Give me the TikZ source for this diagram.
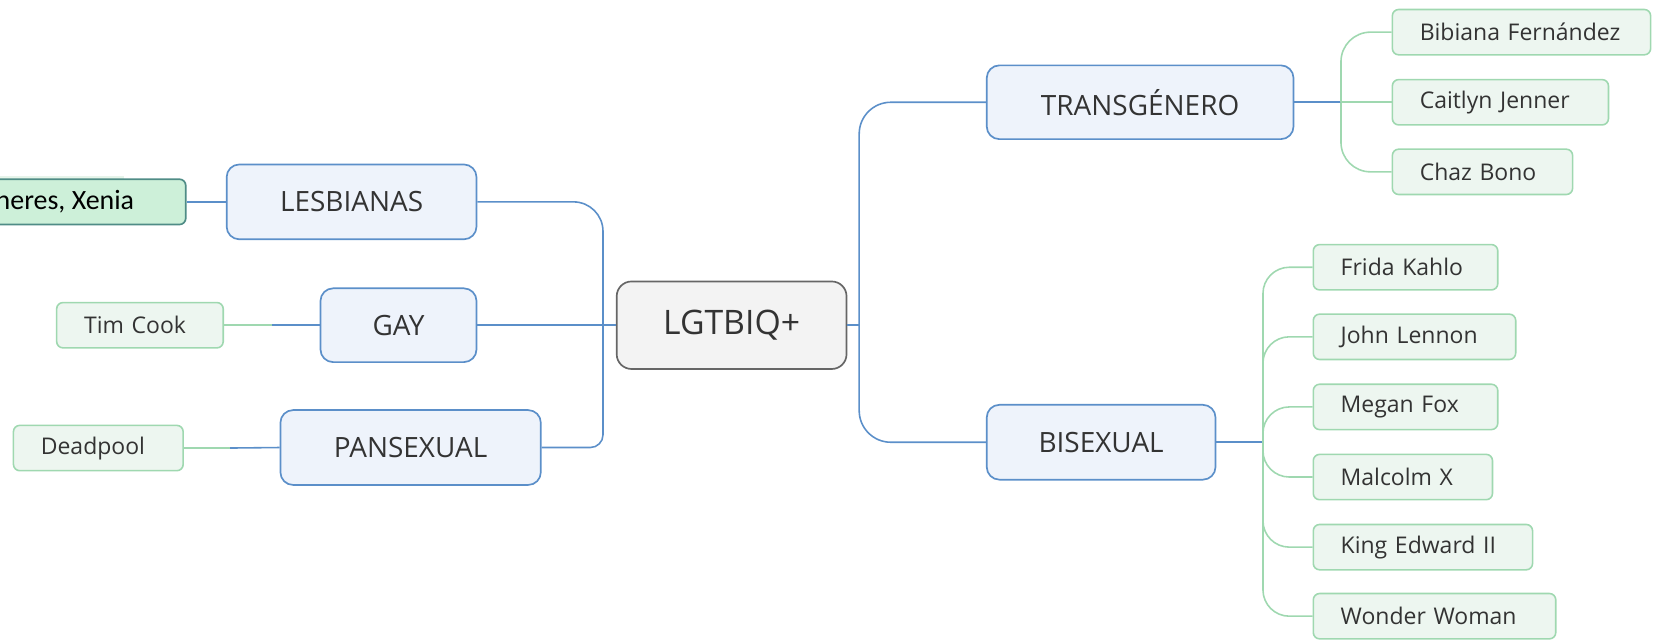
\documentclass[tikz,border=0pt]{standalone}
\usepackage{fontspec}
\setmainfont{Open Sans}
\newfontfamily\calib{Carlito}
\definecolor{mainfill}{HTML}{EEF3FB}
\definecolor{mainline}{HTML}{5B8FC9}
\definecolor{cfill}{HTML}{F3F3F3}
\definecolor{cline}{HTML}{666666}
\definecolor{lfill}{HTML}{EDF6F0}
\definecolor{lline}{HTML}{9FD8B0}
\definecolor{xfill}{HTML}{CDF0D9}
\definecolor{xline}{HTML}{4F8C86}
\definecolor{ghost}{HTML}{E6F4EA}
\definecolor{txt}{HTML}{333333}
\begin{document}
\begin{tikzpicture}[x=1pt,y=-1pt,
  mainbox/.style={draw=mainline, fill=mainfill, line width=1.6pt, rounded corners=12pt,
    text=txt, font=\fontsize{26.5}{30}\selectfont, inner sep=0pt},
  centerbox/.style={draw=cline, fill=cfill, line width=1.6pt, rounded corners=14pt,
    text=txt, font=\fontsize{32}{36}\selectfont, inner sep=0pt},
  leafbox/.style={draw=lline, fill=lfill, line width=1.5pt, rounded corners=6pt,
    text=txt, font=\fontsize{21.8}{25}\selectfont, anchor=west, inner xsep=26pt,
    inner ysep=0pt, minimum height=43pt, align=left},
  bl/.style={draw=mainline, line width=1.5pt},
  gr/.style={draw=lline, line width=1.5pt}]
\useasboundingbox (0,0) rectangle (1568,607);

% centre
\node[centerbox, minimum width=218pt, minimum height=83pt] (C) at (694,308.5) {LGTBIQ+};

% main branches
\node[mainbox, minimum width=291pt, minimum height=70pt] (TR) at (1081.5,97) {TRANSGÉNERO};
\node[mainbox, minimum width=217pt, minimum height=71pt] (BI) at (1044.5,419.5) {BISEXUAL};
\node[mainbox, minimum width=237pt, minimum height=71pt] (LE) at (333.5,191.5) {LESBIANAS};
\node[mainbox, minimum width=148pt, minimum height=70pt] (GA) at (378,308.5) {GAY};
\node[mainbox, minimum width=247pt, minimum height=71pt] (PA) at (389.5,424.5) {PANSEXUAL};

% left leaves
\fill[ghost] (0,167) rectangle (118,171);
\node[draw=xline, fill=xfill, line width=1.6pt, rounded corners=6pt, text=black,
  font=\calib\fontsize{26.5}{30}\selectfont, anchor=east, inner xsep=49pt, inner ysep=0pt,
  minimum height=43pt] (XE) at (177,191.5) {neres, Xenia};
\node[leafbox, text width=106pt] (TC) at (53,308.5) {Tim Cook};
\node[leafbox, text width=109pt] (DP) at (12,425) {Deadpool};

% right leaves (transgenero)
\node[leafbox, text width=193pt] (BF) at (1320,30.5) {Bibiana Fernández};
\node[leafbox, text width=153pt] (CJ) at (1320,97) {Caitlyn Jenner};
\node[leafbox, text width=119pt] (CB) at (1320,163) {Chaz Bono};

% right leaves (bisexual)
\node[leafbox, text width=123pt] (FK) at (1245,253.5) {Frida Kahlo};
\node[leafbox, text width=140pt] (JL) at (1245,319.5) {John Lennon};
\node[leafbox, text width=123pt] (MF) at (1245,386) {Megan Fox};
\node[leafbox, text width=118pt] (MX) at (1245,452.5) {Malcolm X};
\node[leafbox, text width=156pt] (KE) at (1245,519) {King Edward II};
\node[leafbox, text width=178pt] (WW) at (1245,584.5) {Wonder Woman};

% junctions
\coordinate (lj) at (572,308.5);
\coordinate (rj) at (815,308.5);
\coordinate (tj) at (1272,97);
\coordinate (bj) at (1198,419.5);
\coordinate (tm) at (258,308.5);
\coordinate (dm) at (218,425);

% centre connectors
\draw[bl] (C.west) -- (lj);
\draw[bl, rounded corners=28pt] (lj) |- (LE.east);
\draw[bl, rounded corners=12pt] (lj) |- (PA.east);
\draw[bl] (GA.east) -- (lj);
\draw[bl] (C.east) -- (rj);
\draw[bl, rounded corners=30pt] (rj) |- (TR.west);
\draw[bl, rounded corners=30pt] (rj) |- (BI.west);

% left leaf connectors
\draw[bl] (LE.west) -- (XE.east);
\draw[bl] (GA.west) -- (tm);
\draw[gr] (tm) -- (TC.east);
\draw[bl] (PA.west) -- (dm);
\draw[gr] (dm) -- (DP.east);

% transgenero leaves
\draw[bl] (TR.east) -- (tj);
\draw[gr, rounded corners=28pt] (tj) |- (BF.west);
\draw[gr] (tj) -- (CJ.west);
\draw[gr, rounded corners=28pt] (tj) |- (CB.west);

% bisexual leaves
\draw[bl] (BI.east) -- (bj);
\foreach \n in {FK,JL,MF,MX,KE,WW}
  \draw[gr, rounded corners=25pt] (bj) |- (\n.west);
\end{tikzpicture}
\end{document}
